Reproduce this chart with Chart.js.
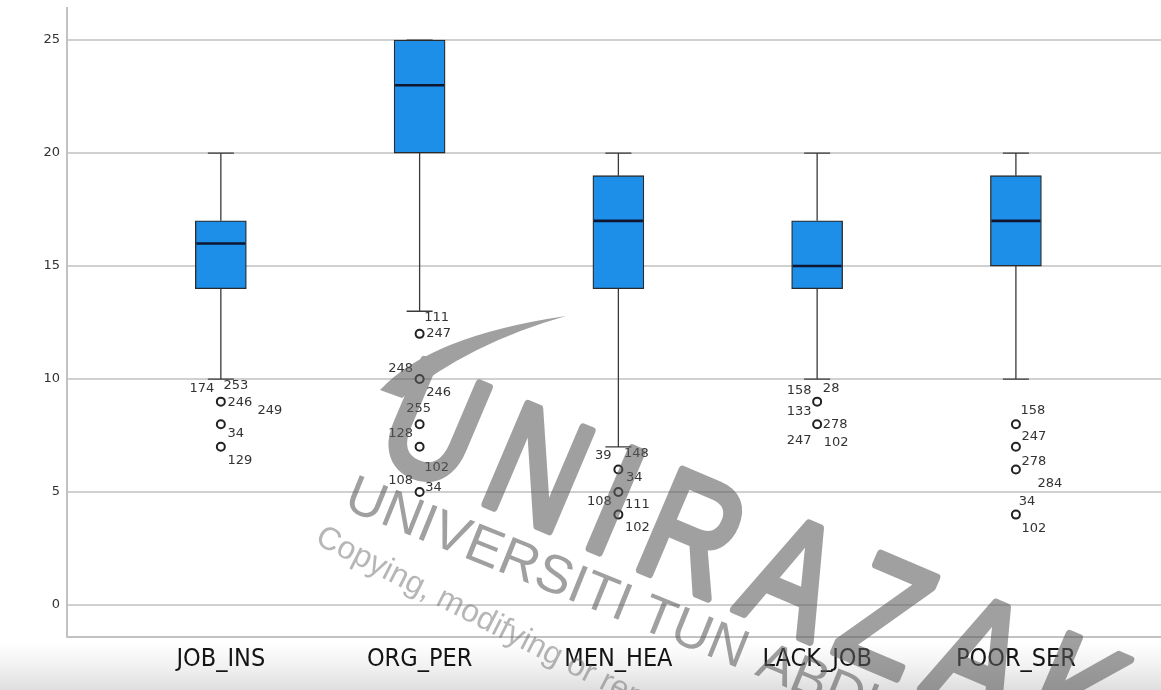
<!DOCTYPE html>
<html>
<head>
<meta charset="utf-8">
<script src="https://cdn.jsdelivr.net/npm/chart.js@4.4.1/dist/chart.umd.min.js"></script>
<style>
  html, body { margin: 0; padding: 0; background: #ffffff; }
  #wrap { width: 1161px; height: 690px; position: relative; }
</style>
</head>
<body>
<div id="wrap"><canvas id="chart"></canvas></div>
<script>
// Box plot summary per variable
const categories  = ['JOB_INS', 'ORG_PER', 'MEN_HEA', 'LACK_JOB', 'POOR_SER'];
const q1          = [14, 20, 14, 14, 15];
const median      = [16, 23, 17, 15, 17];
const q3          = [17, 25, 19, 17, 19];
const whiskerLow  = [10, 13, 7, 10, 10];
const whiskerHigh = [20, 25, 20, 20, 20];
const yTicks      = [0, 5, 10, 15, 20, 25];

// Outliers: which variable, the value, and the case numbers printed beside them
const outlierCat = [0, 0, 0, 1, 1, 1, 1, 1, 2, 2, 2, 3, 3, 4, 4, 4, 4];
const outlierVal = [9, 8, 7, 12, 10, 8, 7, 5, 6, 5, 4, 9, 8, 8, 7, 6, 4];
const outlierIds = [
  ['174', '253', '246', '249'], ['34'], ['129'],
  ['111', '247'], ['248', '246'], ['255', '128'], ['102'], ['108', '34'],
  ['39', '148', '34'], ['108', '111'], ['102'],
  ['158', '28', '133'], ['278', '247', '102'],
  ['158'], ['247'], ['278', '284'], ['34', '102']
];

// Where each case label sits relative to its circle (px)
const labelOffsets = [
  [[-19, -13], [15, -16], [19, 1], [49, 9]], [[15, 9]], [[19, 14]],
  [[17, -16], [19, 0]], [[-19, -10], [19, 14]], [[-1, -16], [-19, 9]], [[17, 21]], [[-19, -11], [14, -4]],
  [[-15, -14], [18, -16], [16, 8]], [[-19, 10], [19, 13]], [[19, 13]],
  [[-18, -11], [14, -13], [-18, 10]], [[18, 0], [-18, 16], [19, 18]],
  [[17, -14]], [[18, -10]], [[18, -8], [34, 14]], [[11, -13], [18, 14]]
];

const BOX_WIDTH = 51;
const CAP_WIDTH = 26;

const pageBackground = {
  id: 'pageBackground',
  beforeDraw(chart) {
    const ctx = chart.ctx;
    const w = chart.width, h = chart.height;
    ctx.save();
    ctx.fillStyle = '#ffffff';
    ctx.fillRect(0, 0, w, h);
    const g = ctx.createLinearGradient(0, 641, 0, h);
    g.addColorStop(0, 'rgba(235,235,235,0)');
    g.addColorStop(1, 'rgba(222,222,222,1)');
    ctx.fillStyle = g;
    ctx.fillRect(0, 641, w, h - 641);
    ctx.restore();
  }
};

const boxParts = {
  id: 'boxParts',
  beforeDatasetsDraw(chart) {
    const ctx = chart.ctx;
    const xs = chart.scales.x, ys = chart.scales.y;
    ctx.save();
    ctx.strokeStyle = '#3a3a3a';
    ctx.lineWidth = 1.3;
    categories.forEach((c, i) => {
      const x = xs.getPixelForValue(i);
      const yl = ys.getPixelForValue(whiskerLow[i]);
      const yh = ys.getPixelForValue(whiskerHigh[i]);
      const y1 = ys.getPixelForValue(q1[i]);
      const y3 = ys.getPixelForValue(q3[i]);
      ctx.beginPath();
      ctx.moveTo(x, y1); ctx.lineTo(x, yl);
      ctx.moveTo(x, y3); ctx.lineTo(x, yh);
      ctx.moveTo(x - CAP_WIDTH / 2, yl); ctx.lineTo(x + CAP_WIDTH / 2, yl);
      ctx.moveTo(x - CAP_WIDTH / 2, yh); ctx.lineTo(x + CAP_WIDTH / 2, yh);
      ctx.stroke();
    });
    ctx.restore();
  },
  afterDatasetsDraw(chart) {
    const ctx = chart.ctx;
    const xs = chart.scales.x, ys = chart.scales.y;
    ctx.save();
    // medians
    ctx.strokeStyle = '#0e1630';
    ctx.lineWidth = 2.6;
    categories.forEach((c, i) => {
      const x = xs.getPixelForValue(i);
      const ym = ys.getPixelForValue(median[i]);
      ctx.beginPath();
      ctx.moveTo(x - BOX_WIDTH / 2 + 1, ym);
      ctx.lineTo(x + BOX_WIDTH / 2 - 1, ym);
      ctx.stroke();
    });
    // case labels beside outliers
    ctx.fillStyle = '#333333';
    ctx.font = '13px "DejaVu Sans", sans-serif';
    ctx.textAlign = 'center';
    ctx.textBaseline = 'middle';
    outlierCat.forEach((ci, k) => {
      const px = xs.getPixelForValue(ci);
      const py = ys.getPixelForValue(outlierVal[k]);
      outlierIds[k].forEach((id, j) => {
        const off = labelOffsets[k][j];
        ctx.fillText(id, px + off[0], py + off[1]);
      });
    });
    ctx.restore();
  }
};

// Translucent university watermark laid over the finished chart
const watermark = {
  id: 'watermark',
  afterDraw(chart) {
    const w = chart.width, h = chart.height;
    const layer = document.createElement('canvas');
    layer.width = w; layer.height = h;
    const c = layer.getContext('2d');
    c.fillStyle = '#5c5c5c';
    c.strokeStyle = '#5c5c5c';
    c.lineJoin = 'round';

    // ribbon swoosh
    c.beginPath();
    c.moveTo(380, 390);
    c.quadraticCurveTo(430, 336, 566, 316);
    c.quadraticCurveTo(470, 343, 402, 398);
    c.closePath();
    c.fill();

    // large name
    c.save();
    c.translate(372, 456);
    c.rotate(23 * Math.PI / 180);
    c.scale(0.8, 1);
    c.font = '158px "Liberation Sans Narrow", sans-serif';
    c.letterSpacing = '26px';
    c.lineWidth = 8;
    c.fillText('UNIRAZAK', 0, 0);
    c.strokeText('UNIRAZAK', 0, 0);
    c.restore();

    // second line
    c.save();
    c.translate(342, 508);
    c.rotate(22 * Math.PI / 180);
    c.font = '54px "Liberation Sans", sans-serif';
    c.fillText('UNIVERSITI TUN ABDUL RAZAK', 0, 0);
    c.restore();

    const ctx = chart.ctx;
    ctx.save();
    ctx.globalAlpha = 0.58;
    ctx.drawImage(layer, 0, 0);
    ctx.restore();

    // notice line
    ctx.save();
    ctx.translate(314, 543);
    ctx.rotate(27 * Math.PI / 180);
    ctx.fillStyle = 'rgba(110,110,110,0.5)';
    ctx.font = '32px "Liberation Sans", sans-serif';
    ctx.fillText('Copying, modifying or reprinting', 0, 0);
    ctx.restore();
  }
};

const boxData = categories.map((c, i) => ({ x: i, y: [q1[i], q3[i]] }));
const outlierData = outlierCat.map((ci, k) => ({ x: ci, y: outlierVal[k] }));

function noScalePadding(s) {
  s.paddingTop = 0; s.paddingBottom = 0; s.paddingLeft = 0; s.paddingRight = 0;
}

new Chart(document.getElementById('chart'), {
  type: 'bar',
  data: {
    datasets: [
      {
        type: 'bar',
        data: boxData,
        backgroundColor: '#1e8fe8',
        borderColor: '#2b2b2b',
        borderWidth: 1.3,
        borderSkipped: false,
        barThickness: BOX_WIDTH,
        order: 2
      },
      {
        type: 'scatter',
        data: outlierData,
        pointStyle: 'circle',
        pointRadius: 4,
        pointBorderWidth: 2,
        pointBorderColor: '#222222',
        pointBackgroundColor: '#ffffff',
        order: 1
      }
    ]
  },
  options: {
    responsive: true,
    maintainAspectRatio: false,
    animation: false,
    layout: { autoPadding: false, padding: { top: 8, right: 0, bottom: 0, left: 0 } },
    plugins: { legend: { display: false }, tooltip: { enabled: false } },
    scales: {
      x: {
        type: 'linear',
        offset: false,
        min: -0.774,
        max: 4.73,
        grid: { display: false, drawTicks: false },
        border: { display: true, color: '#c2c2c2', width: 2 },
        afterBuildTicks: (s) => { s.ticks = categories.map((c, i) => ({ value: i })); },
        afterFit: (s) => { s.height = 53; noScalePadding(s); },
        ticks: {
          autoSkip: false,
          maxRotation: 0,
          padding: 7,
          color: '#141414',
          font: { family: '"Liberation Sans Narrow", "DejaVu Sans Condensed", sans-serif', size: 25 },
          callback: (v) => categories[v] ?? ''
        }
      },
      y: {
        type: 'linear',
        min: -1.416,
        max: 26.42,
        grid: { color: '#d0d0d0', lineWidth: 2, drawTicks: false },
        border: { display: true, color: '#c2c2c2', width: 2 },
        afterBuildTicks: (s) => { s.ticks = yTicks.map(v => ({ value: v })); },
        afterFit: (s) => { s.width = 67; noScalePadding(s); },
        ticks: {
          padding: 7,
          color: '#333333',
          font: { family: '"DejaVu Sans", sans-serif', size: 13 }
        }
      }
    }
  },
  plugins: [pageBackground, boxParts, watermark]
});
</script>
</body>
</html>
